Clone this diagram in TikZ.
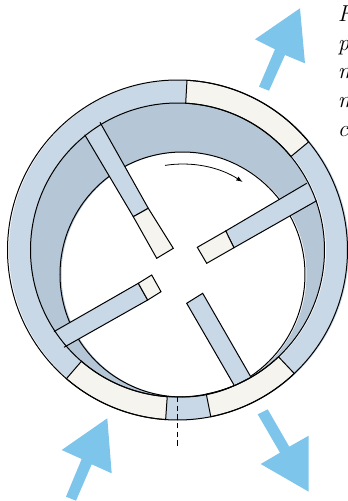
\documentclass[tikz,border=0pt]{standalone}
\definecolor{ringblue}{HTML}{C8D8E6}
\definecolor{pocketblue}{HTML}{B5C7D6}
\definecolor{padcream}{HTML}{F5F4EF}
\definecolor{flowblue}{HTML}{7DC5EA}
\tikzset{
  outline/.style={draw=black,line width=0.75pt},
  vane/.style={outline,fill=ringblue},
  vanetip/.style={outline,fill=padcream},
  flow/.style={fill=flowblue},
  slidetext/.style={anchor=base west,inner sep=0pt,font=\LARGE\itshape}
}
\begin{document}
\begin{tikzpicture}[x=0.75pt,y=0.75pt]
\useasboundingbox (-177.5,-251) rectangle (170.5,250);
% stator ring and pumping pocket
\fill[ringblue,even odd rule] (1.5,0) circle (170) (1.5,0) circle (147);
\fill[pocketblue,even odd rule] (0,0) circle (147) (6.5,-24.5) circle (122.5);
% port segments
\foreach \a/\b in {39.5/86.8,-78.7/-46.6,229.2/266}{
  \filldraw[outline,fill=padcream] (\a:147) -- (\a:170)
    arc[start angle=\a,end angle=\b,radius=170] -- (\b:147)
    arc[start angle=\b,end angle=\a,radius=147] -- cycle;
}
\draw[outline] (0,0) circle (170);
\draw[outline] (5,-24.5) circle (122.5);
% vanes
\filldraw[vane] (-77.5,127.7) -- (-29.2,41.7) -- (-44.2,33.3) -- (-92.8,115.3);
\filldraw[vanetip] (-29.2,41.7) -- (-4.2,1.7) -- (-20.8,-8.3) -- (-44.2,33.3) -- cycle;
\filldraw[vane] (129.2,66.7) -- (48.2,19) -- (56.5,2.3) -- (139.2,49.3);
\filldraw[vanetip] (48.2,19) -- (19.8,2.7) -- (29.2,-13.3) -- (56.5,2.3) -- cycle;
\filldraw[vane] (56.5,-135) -- (9.2,-53.3) -- (25.2,-43.3) -- (73.2,-126.7);
\filldraw[vane] (-123.5,-81.6) -- (-39.2,-33.3) -- (-29.8,-50) -- (-113.5,-97.3);
\filldraw[vanetip] (-39.2,-33.3) -- (-25.8,-25) -- (-16.5,-41.7) -- (-29.8,-50) -- cycle;
\draw[outline] (0,0) circle (147);
% rotation and centre line
\draw[line width=0.6pt,-latex] (-12.5,84.6) arc[start angle=99,end angle=57,radius=110.5];
\coordinate (axistop) at (0.5,-147);
\coordinate (axisend) at (0.5,-198);
\draw[line width=0.75pt,dash pattern=on 4pt off 2.5pt] (axistop) -- (axisend);
% flow arrows
\fill[flow] (81.5,163.3) -- (97.5,200.7) -- (77.5,210.7) -- (122.5,241.7) -- (127.5,186.7) -- (107.5,195) -- (91.5,159.3) -- cycle;
\fill[flow] (-111.5,-246.7) -- (-95.8,-209) -- (-115.8,-200) -- (-70.2,-168.3) -- (-65.8,-223.3) -- (-85.8,-214.3) -- (-101.5,-250.7) -- cycle;
\fill[flow] (80.2,-164.3) -- (102.5,-202.7) -- (83.2,-214) -- (131.2,-241.7) -- (131.2,-185.7) -- (111.8,-196.7) -- (90.2,-159.3) -- cycle;
% text cut off by the page edge
\node[slidetext] (lineone) at (160,228.5) {F};
\node[slidetext] (linetwo) at (160,200) {p};
\node[slidetext] (linethree) at (160,172) {m};
\node[slidetext] (linefour) at (160,143) {m};
\node[slidetext] (linefive) at (160,114) {c};
\end{tikzpicture}
\end{document}
